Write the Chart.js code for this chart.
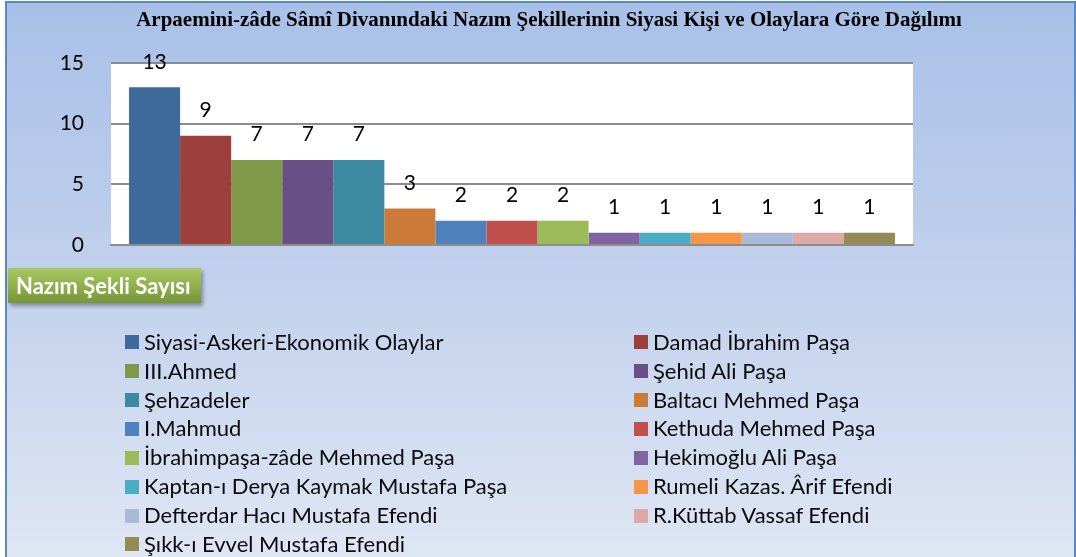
<!DOCTYPE html>
<html>
<head>
<meta charset="utf-8">
<script src="https://cdn.jsdelivr.net/npm/chart.js@4.4.1/dist/chart.umd.min.js"></script>
<style>
  html, body { margin: 0; padding: 0; }
  #wrap { position: relative; width: 1076px; height: 557px; overflow: hidden; background: #ffffff; }
  #frame { position: absolute; left: 5px; top: 1px; width: 1071px; height: 556px; box-sizing: border-box;
    border-left: 2px solid #5A88C8; border-top: 2px solid #5A88C8; border-right: 2px solid #5A88C8;
    background: linear-gradient(to bottom, #A8C0E8 0%, #C2D1EC 50%, #DFE6F4 100%); }
  #chart { position: absolute; left: 0; top: 0; }
  #axisTitle { position: absolute; left: 8px; top: 268px; width: 193px; height: 35px; box-sizing: border-box;
    background: linear-gradient(to bottom, #A8C764 0%, #8DAE48 55%, #76963A 100%);
    box-shadow: 2px 3px 4px rgba(0,0,0,0.35);
    color: #ffffff; font-family: Lato, sans-serif; font-weight: bold; font-size: 22px;
    line-height: 35px; padding-left: 8px; white-space: nowrap; }
  .lg { position: absolute; font-family: Lato, sans-serif; font-size: 22px; color: #0a0a0a; white-space: nowrap; line-height: 26px; height: 26px; }
  .lg .sw { display: inline-block; width: 14px; height: 14px; vertical-align: middle; margin-right: 5px; position: relative; top: -2px; }
</style>
</head>
<body>
<div id="wrap">
  <div id="frame"></div>
  <canvas id="chart" width="1076" height="557"></canvas>
  <div id="axisTitle">Nazım Şekli Sayısı</div>
  <div id="legend"></div>
</div>
<script>
const chartTitle = "Arpaemini-zâde Sâmî Divanındaki Nazım Şekillerinin Siyasi Kişi ve Olaylara Göre Dağılımı";
const categories = [""];
const seriesNames = [
  "Siyasi-Askeri-Ekonomik Olaylar",
  "Damad İbrahim Paşa",
  "III.Ahmed",
  "Şehid Ali Paşa",
  "Şehzadeler",
  "Baltacı Mehmed Paşa",
  "I.Mahmud",
  "Kethuda Mehmed Paşa",
  "İbrahimpaşa-zâde Mehmed Paşa",
  "Hekimoğlu Ali Paşa",
  "Kaptan-ı Derya Kaymak Mustafa Paşa",
  "Rumeli Kazas. Ârif Efendi",
  "Defterdar Hacı Mustafa Efendi",
  "R.Küttab Vassaf Efendi",
  "Şıkk-ı Evvel Mustafa Efendi"
];
const seriesValues = [13, 9, 7, 7, 7, 3, 2, 2, 2, 1, 1, 1, 1, 1, 1];
const seriesColors = [
  "#3E6A9C", "#9D3F3D", "#7F9948", "#684F86", "#3B8AA1",
  "#CC7A38", "#4F81BD", "#C0504D", "#9BBB59", "#8064A2",
  "#4BACC6", "#F79646", "#AAB9D5", "#DAA9A8", "#948A54"
];
const yTicks = [0, 5, 10, 15];

const plotBg = {
  id: 'plotBg',
  beforeDraw(chart) {
    const {ctx, chartArea: a} = chart;
    ctx.save();
    ctx.fillStyle = '#ffffff';
    ctx.fillRect(a.left, a.top, a.right - a.left, a.bottom - a.top);
    ctx.restore();
  }
};

const valueLabels = {
  id: 'valueLabels',
  afterDatasetsDraw(chart) {
    const ctx = chart.ctx;
    ctx.save();
    ctx.font = '21px Lato, sans-serif';
    ctx.fillStyle = '#000000';
    ctx.textAlign = 'center';
    ctx.textBaseline = 'middle';
    chart.data.datasets.forEach((ds, i) => {
      const meta = chart.getDatasetMeta(i);
      meta.data.forEach((bar, j) => {
        ctx.fillText(String(ds.data[j]), bar.x, bar.y - 25.5);
      });
    });
    ctx.restore();
  }
};

const chart = new Chart(document.getElementById('chart'), {
  type: 'bar',
  data: {
    labels: categories,
    datasets: seriesNames.map((name, i) => ({
      label: name,
      data: [seriesValues[i]],
      backgroundColor: seriesColors[i],
      borderWidth: 0,
      categoryPercentage: 0.955,
      barPercentage: 1.0
    }))
  },
  options: {
    responsive: false,
    devicePixelRatio: 1,
    animation: false,
    layout: { padding: { left: 22, right: 0, top: 0, bottom: 0 } },
    plugins: {
      legend: { display: false },
      tooltip: { enabled: false },
      title: {
        display: true,
        text: chartTitle,
        color: '#000000',
        font: { family: '"Liberation Serif", "Times New Roman", serif', size: 21, weight: 'bold', lineHeight: 1.2 },
        padding: { top: 8, bottom: 29.8 }
      }
    },
    scales: {
      x: {
        display: true,
        grid: { display: false, drawTicks: false },
        ticks: { display: false },
        border: { display: true, color: '#8C8C8C', width: 2 },
        afterFit(scale) { scale.height = 312; }
      },
      y: {
        min: 0, max: 15,
        afterBuildTicks(scale) { scale.ticks = yTicks.map(v => ({ value: v })); },
        grid: { color: '#8C8C8C', lineWidth: 2, drawTicks: false },
        border: { display: false },
        ticks: { padding: 27, color: '#000000', font: { family: 'Lato, sans-serif', size: 21 } },
        afterFit(scale) { scale.width = 89; }
      },
      yRight: {
        type: 'linear',
        position: 'right',
        display: true,
        grid: { display: false, drawTicks: false },
        ticks: { display: false },
        border: { display: false },
        afterFit(scale) { scale.width = 163; }
      }
    }
  },
  plugins: [plotBg, valueLabels]
});

// HTML legend built from the chart's datasets
const legendEl = document.getElementById('legend');
chart.data.datasets.forEach((ds, i) => {
  const row = Math.floor(i / 2);
  const col = i % 2;
  const item = document.createElement('div');
  item.className = 'lg';
  item.style.left = (col === 0 ? 125 : 634) + 'px';
  item.style.top = (341.7 + row * 28.9 - 13) + 'px';
  const sw = document.createElement('span');
  sw.className = 'sw';
  sw.style.background = ds.backgroundColor;
  item.appendChild(sw);
  item.appendChild(document.createTextNode(ds.label));
  legendEl.appendChild(item);
});
</script>
</body>
</html>
